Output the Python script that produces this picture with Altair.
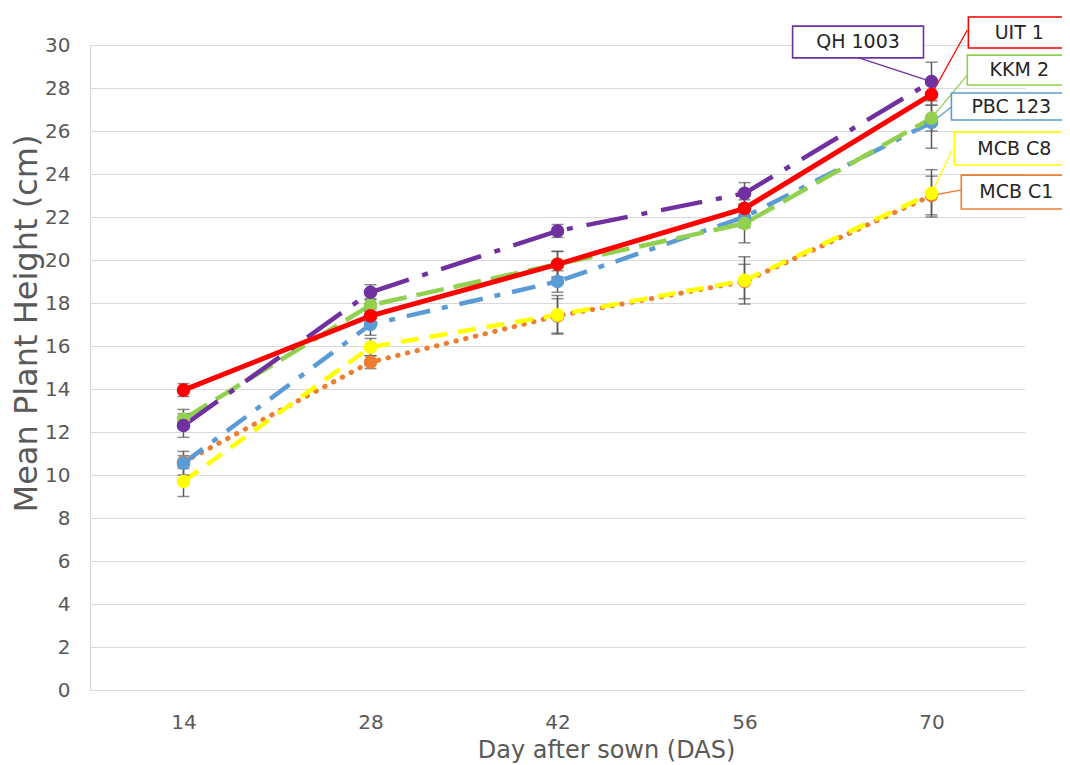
import altair as alt
import pandas as pd

# ---------------- data ----------------
days = [14, 28, 42, 56, 70]

series_order = ["MCB C1", "MCB C8", "PBC 123", "KKM 2", "QH 1003", "UIT 1"]

uit1 = [13.95, 17.4, 19.8, 22.4, 27.7]
kkm2 = [12.6, 17.9, 19.8, 21.7, 26.6]
qh1003 = [12.3, 18.5, 21.35, 23.1, 28.3]
pbc123 = [10.55, 17.0, 19.0, 22.0, 26.4]
mcbc8 = [9.7, 15.95, 17.45, 19.05, 23.1]
mcbc1 = [10.6, 15.25, 17.4, 19.0, 23.0]

uit1_err = [0.3, 0.3, 0.6, 0.4, 0.5]
kkm2_err = [0.45, 0.3, 0.6, 0.9, 0.6]
qh1003_err = [0.55, 0.35, 0.3, 0.5, 0.9]
pbc123_err = [0.55, 0.5, 0.5, 0.5, 1.2]
mcbc8_err = [0.7, 0.4, 0.9, 1.1, 1.1]
mcbc1_err = [0.3, 0.3, 0.8, 0.8, 0.9]

values = {"UIT 1": uit1, "KKM 2": kkm2, "QH 1003": qh1003,
          "PBC 123": pbc123, "MCB C8": mcbc8, "MCB C1": mcbc1}
errors = {"UIT 1": uit1_err, "KKM 2": kkm2_err, "QH 1003": qh1003_err,
          "PBC 123": pbc123_err, "MCB C8": mcbc8_err, "MCB C1": mcbc1_err}

colors = {"UIT 1": "#FF0000", "KKM 2": "#92D050", "QH 1003": "#7030A0",
          "PBC 123": "#5B9BD5", "MCB C8": "#FFFF00", "MCB C1": "#ED7D31"}

# callout labels (data coordinates: day, cm)
callout_names = ["QH 1003", "UIT 1", "KKM 2", "PBC 123", "MCB C8", "MCB C1"]
box_x1 = [59.6, 72.76, 72.68, 71.49, 71.71, 72.23]
box_x2 = [69.4, 80.7, 80.7, 80.7, 80.7, 80.7]
box_y1 = [30.88, 31.30, 29.53, 27.77, 25.95, 23.95]
box_y2 = [29.40, 29.86, 28.14, 26.51, 24.42, 22.37]
text_x = [64.5, 76.57, 76.57, 75.97, 76.2, 76.35]
text_y = [30.12, 30.58, 28.82, 27.12, 25.18, 23.16]
lead_x = [64.39, 72.68, 72.68, 71.49, 71.56, 72.23]
lead_y = [29.44, 30.7, 28.6, 27.12, 25.12, 23.26]

# ---------------- tables ----------------
rows = []
for s in series_order:
    for d, v, e in zip(days, values[s], errors[s]):
        rows.append({"series": s, "day": d, "h": v, "lo": v - e, "hi": v + e})
df = pd.DataFrame(rows)

crow = []
for i, n in enumerate(callout_names):
    crow.append({"series": n, "bx1": box_x1[i], "bx2": box_x2[i],
                 "by1": box_y1[i], "by2": box_y2[i],
                 "tx": text_x[i], "ty": text_y[i],
                 "lx": lead_x[i], "ly": lead_y[i],
                 "px": days[-1], "py": values[n][-1]})
cdf = pd.DataFrame(crow)

FONT = "DejaVu Sans"
GREY = "#595959"

xscale = alt.Scale(domain=[7, 77], nice=False, zero=False)
yscale = alt.Scale(domain=[0, 30], nice=False)

xaxis = alt.Axis(values=days, grid=False, domain=False, ticks=False,
                 labelFontSize=20, labelColor=GREY, labelFont=FONT,
                 labelBaseline="alphabetic", labelPadding=38,
                 title="Day after sown (DAS)", titleFontSize=24,
                 titleColor=GREY, titleFont=FONT, titleFontWeight="normal",
                 titleX=516, titleY=67, titleBaseline="alphabetic",
                 titleAlign="center")
yaxis = alt.Axis(values=list(range(0, 31, 2)), grid=True, gridColor="#d9d9d9",
                 gridWidth=1.2, domain=True, domainColor="#d9d9d9",
                 domainWidth=1.2, ticks=False, labelFontSize=20,
                 labelColor=GREY, labelFont=FONT, labelPadding=20,
                 title="Mean Plant Height (cm)", titleFontSize=32,
                 titleColor=GREY, titleFont=FONT, titleFontWeight="normal",
                 titleX=-54, titleY=278, titleAngle=270,
                 titleBaseline="alphabetic", titleAlign="center")


def X(field):
    return alt.X(field, type="quantitative", scale=xscale, axis=xaxis)


def Y(field):
    return alt.Y(field, type="quantitative", scale=yscale, axis=yaxis)


line_style = {
    "UIT 1": dict(strokeWidth=5),
    "KKM 2": dict(strokeWidth=4.5, strokeDash=[28, 10]),
    "QH 1003": dict(strokeWidth=4.5, strokeDash=[42, 14, 6, 14]),
    "PBC 123": dict(strokeWidth=4.5, strokeDash=[24, 12, 6, 12]),
    "MCB C8": dict(strokeWidth=4.5, strokeDash=[18, 11]),
    "MCB C1": dict(strokeWidth=5, strokeDash=[0.5, 9.5], strokeCap="round"),
}

color_scale = alt.Scale(domain=list(colors.keys()), range=list(colors.values()))

layers = []

# leader lines of callouts
layers.append(
    alt.Chart(cdf).mark_rule(strokeWidth=1.3).encode(
        x=X("lx"), y=Y("ly"), x2="px", y2="py",
        color=alt.Color("series:N", scale=color_scale, legend=None)))

for s in series_order:
    base = alt.Chart(df).transform_filter(alt.datum.series == s)
    layers.append(base.mark_line(color=colors[s], **line_style[s]).encode(
        x=X("day"), y=Y("h")))

# error bars
ebase = alt.Chart(df)
layers.append(ebase.mark_rule(color=GREY, strokeWidth=1.5).encode(
    x=X("day"), y=Y("lo"), y2="hi"))
layers.append(ebase.mark_tick(color=GREY, orient="horizontal", size=12,
                              thickness=1.5).encode(x=X("day"), y=Y("lo")))
layers.append(ebase.mark_tick(color=GREY, orient="horizontal", size=12,
                              thickness=1.5).encode(x=X("day"), y=Y("hi")))

for s in series_order:
    base = alt.Chart(df).transform_filter(alt.datum.series == s)
    layers.append(base.mark_circle(color=colors[s], opacity=1, size=185).encode(
        x=X("day"), y=Y("h")))

# callout boxes and texts
layers.append(
    alt.Chart(cdf).mark_rect(fill="white", strokeWidth=1.6).encode(
        x=X("bx1"), x2="bx2", y=Y("by1"), y2="by2",
        stroke=alt.Stroke("series:N", scale=color_scale, legend=None)))
layers.append(
    alt.Chart(cdf).mark_text(font=FONT, fontSize=19, color="#262626",
                             align="center", baseline="middle").encode(
        x=X("tx"), y=Y("ty"), text="series:N"))

chart = alt.layer(*layers).properties(
    width=935, height=645,
    autosize=alt.AutoSizeParams(type="none"),
    padding={"left": 82, "top": 37, "right": 37, "bottom": 75},
    background="white",
).configure_view(stroke=None)

chart.save("out.html", embed_options={"renderer": "svg", "actions": False})
